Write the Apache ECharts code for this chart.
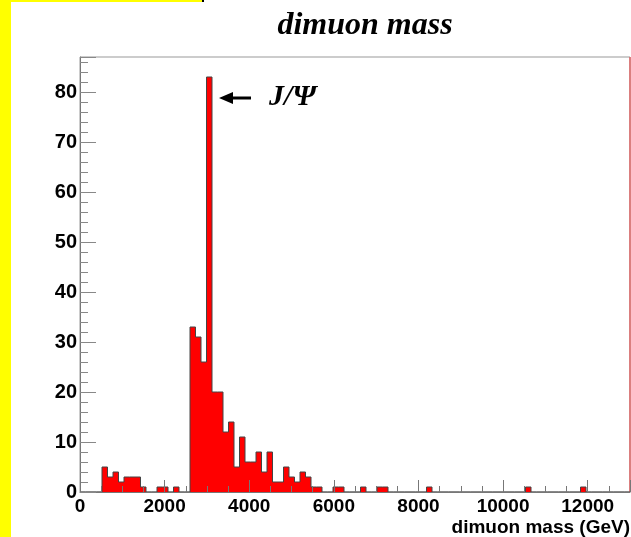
<!DOCTYPE html>
<html>
<head>
<meta charset="utf-8">
<script src="https://cdn.jsdelivr.net/npm/echarts@6/dist/echarts.min.js"></script>
<style>
  html, body { margin: 0; padding: 0; background: #fff; }
  #chart { width: 631px; height: 537px; }
</style>
</head>
<body>
<div id="chart"></div>
<script>
// histogram: 100 bins of 130 GeV from 0 to 13000
var binStart = 0;
var binWidth = 130;
var counts = [
    0, 0, 0, 0, 5, 3, 4, 2, 3, 3,
    3, 1, 0, 0, 1, 1, 0, 1, 0, 0,
    33, 31, 26, 83, 20, 20, 12, 14, 5, 11,
    6, 6, 8, 4, 8, 2, 2, 5, 3, 2,
    4, 3, 1, 1, 0, 0, 1, 1, 0, 0,
    0, 1, 0, 0, 1, 1, 0, 0, 0, 0,
    0, 0, 0, 1, 0, 0, 0, 0, 0, 0,
    0, 0, 0, 0, 0, 0, 0, 0, 0, 0,
    0, 1, 0, 0, 0, 0, 0, 0, 0, 0,
    0, 1, 0, 0, 0, 0, 0, 0, 0, 0
];
var xRange = [0, 13000];
var yRange = [0, 87];
var titleText = 'dimuon mass';
var xAxisTitle = 'dimuon mass (GeV)';
var peakLabel = 'J/\u03A8';

var chart = echarts.init(document.getElementById('chart'));

// step outline points at the low edge of each bin, closed at the last edge
var stepData = counts.map((c, i) => [binStart + i * binWidth, c]);
stepData.push([binStart + counts.length * binWidth, 0]);

var sansBold = {
    fontFamily: 'Liberation Sans, Arial, sans-serif',
    fontWeight: 'bold',
    color: '#000'
};

chart.setOption({
    animation: false,
    backgroundColor: '#fff',
    title: {
        text: titleText,
        left: 365,
        top: 10,
        padding: 0,
        textAlign: 'center',
        textStyle: {
            fontFamily: 'Liberation Serif, Times New Roman, serif',
            fontStyle: 'italic',
            fontWeight: 'bold',
            fontSize: 32,
            color: '#000'
        }
    },
    grid: {
        left: 80,
        top: 57,
        right: 1,
        bottom: 45,
        show: true,
        borderColor: '#999',
        borderWidth: 1
    },
    xAxis: {
        type: 'value',
        min: xRange[0],
        max: xRange[1],
        interval: 2000,
        z: 5,
        splitLine: { show: false },
        axisLine: { lineStyle: { color: '#777', width: 1 } },
        axisTick: { inside: true, length: 12, lineStyle: { color: '#777' } },
        minorTick: { show: true, splitNumber: 4, length: 6, lineStyle: { color: '#777' } },
        axisLabel: Object.assign({
            fontSize: 19, margin: 5, showMaxLabel: false,
            formatter: v => String(v)
        }, sansBold)
    },
    yAxis: {
        type: 'value',
        min: yRange[0],
        max: yRange[1],
        interval: 10,
        z: 5,
        splitLine: { show: false },
        axisLine: { show: true, lineStyle: { color: '#777', width: 1 } },
        axisTick: { show: true, inside: true, length: 16, lineStyle: { color: '#888' } },
        minorTick: { show: true, splitNumber: 5, length: 8, lineStyle: { color: '#888' } },
        axisLabel: Object.assign({ fontSize: 20, margin: 3, showMaxLabel: false }, sansBold)
    },
    series: [{
        type: 'line',
        step: 'end',
        data: stepData,
        showSymbol: false,
        lineStyle: { color: '#444', width: 1 },
        areaStyle: { color: '#ff0000', opacity: 1 },
        z: 2
    }],
    graphic: [
        // yellow pad edges
        { type: 'rect', shape: { x: 0, y: 0, width: 11, height: 537 }, style: { fill: '#ffff00' } },
        { type: 'rect', shape: { x: 0, y: 0, width: 202, height: 2 }, style: { fill: '#ffff00' } },
        { type: 'rect', shape: { x: 202, y: 0, width: 2, height: 2 }, style: { fill: '#000' } },
        // red right frame edge
        { type: 'line', shape: { x1: 630, y1: 57, x2: 630, y2: 492 }, style: { stroke: '#e06666', lineWidth: 1.5 } },
        // J/Psi arrow annotation
        { type: 'line', shape: { x1: 231, y1: 98, x2: 251, y2: 98 }, style: { stroke: '#000', lineWidth: 3 } },
        { type: 'polygon', shape: { points: [[219, 98], [233, 92], [233, 104]] }, style: { fill: '#000' } },
        {
            type: 'text', left: 269, top: 82,
            style: {
                text: peakLabel,
                font: 'italic bold 30px "Liberation Serif", "Times New Roman", serif',
                fill: '#000'
            }
        },
        {
            type: 'text', right: 1, top: 518,
            style: {
                text: xAxisTitle,
                font: 'bold 19px "Liberation Sans", Arial, sans-serif',
                fill: '#000'
            }
        }
    ]
});
</script>
</body>
</html>
